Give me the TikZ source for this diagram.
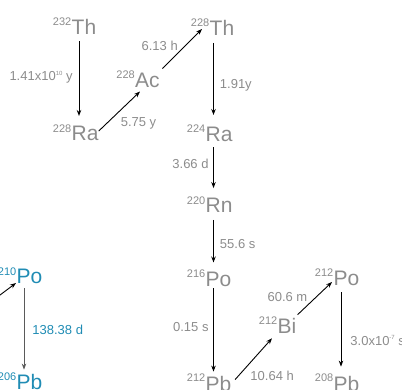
\documentclass[tikz,border=0pt]{standalone}
\usepackage{fontspec}
\setmainfont{Liberation Sans}
\usepackage{tikz}
\usetikzlibrary{arrows.meta, positioning}
\definecolor{cGray}{RGB}{140,140,140}
\definecolor{cBlue}{RGB}{32,140,180}
\definecolor{cLine}{RGB}{90,90,90}
\newcommand{\pw}[1]{\raisebox{5.5pt}{\fontsize{6}{6}\selectfont #1}}
\tikzset{
	elem/.style ={inner sep=0pt, anchor=west, font=\fontsize{21}{21}\selectfont, text=cGray},
	num/.style  ={inner sep=0pt, anchor=north east, yshift=1.5pt, font=\fontsize{11}{11}\selectfont, text=cGray},
	iso/.style  ={elem, label={[num]north west:#1}},
	isob/.style ={elem, text=cBlue, label={[num, text=cBlue]north west:#1}},
	lbl/.style  ={inner sep=0pt, font=\fontsize{13}{13}\selectfont, text=cGray},
	decay/.style={-{Stealth[length=6pt, width=4.5pt]}, line width=0.9pt},
	fall/.style ={decay, shorten <=7pt, shorten >=9pt},
}
\begin{document}
\begin{tikzpicture}[x=1pt, y=-1pt]
	\useasboundingbox (0,0) rectangle (402,389);
	\clip (0,0) rectangle (402,389);
	% thorium series
	\node[iso=232] (th232) at (71.5,26.5) {Th};
	\node[iso=228] (ra228) at (71.5,133.5) {Ra};
	\node[iso=228] (ac228) at (135,80) {Ac};
	\node[iso=228] (th228) at (209.5,28) {Th};
	\node[iso=224] (ra224) at (205.5,134) {Ra};
	\node[iso=220] (rn220) at (205.5,205.5) {Rn};
	\node[iso=216] (po216) at (205.5,279) {Po};
	\node[iso=212] (pb212) at (205.5,383.5) {Pb};
	\node[iso=212] (bi212) at (277.5,325.5) {Bi};
	\node[iso=212] (po212) at (333.5,278) {Po};
	\node[iso=208] (pb208) at (333.5,383.5) {Pb};
	% end of the other chain
	\node[isob=210] (po210) at (16.5,276.5) {Po};
	\node[isob=206] (pb206) at (16.5,382) {Pb};
	\coordinate (in210) at (-12,304);

	\draw[fall, shorten >=10pt] ([xshift=7.5pt]th232.south west) -- node[lbl, left=6pt, yshift=3pt] {1.41x10\pw{10} y} ([xshift=7.5pt]ra228.north west);
	\draw[decay] ([yshift=2.5pt]ra228.east) -- node[lbl, anchor=north west, xshift=1pt, yshift=-5.5pt] {5.75 y} ([xshift=5pt, yshift=-4pt]ac228.south west);
	\draw[decay] ([xshift=2.5pt, yshift=4pt]ac228.north east) -- node[lbl, left=4pt, yshift=2.5pt] {6.13 h} ([xshift=-7.5pt, yshift=-1pt]th228.west);
	\draw[fall, shorten >=11.5pt] ([xshift=4pt]th228.south west) -- node[lbl, right=6pt, yshift=-4pt] {1.91y} ([xshift=8pt]ra224.north west);
	\draw[fall, shorten <=5.5pt, shorten >=10pt] ([xshift=8pt]ra224.south west) -- node[lbl, left=4.5pt, yshift=5.5pt] {3.66 d} ([xshift=8pt]rn220.north west);
	\draw[fall] ([xshift=8pt]rn220.south west) -- node[lbl, right=6pt, yshift=-2pt] {55.6 s} ([xshift=8pt]po216.north west);
	\draw[fall, shorten <=1.5pt, shorten >=4pt] ([xshift=8pt]po216.south west) -- node[lbl, left=4.5pt, yshift=4.5pt] {0.15 s} ([xshift=8pt]pb212.north west);
	\draw[decay] ([xshift=3.5pt, yshift=-4pt]pb212.north east) -- node[lbl, anchor=north west, xshift=-3.5pt, yshift=-12pt] {10.64 h} ([xshift=-5.5pt, yshift=-5pt]bi212.south west);
	\draw[decay] ([xshift=1pt, yshift=3pt]bi212.north east) -- node[lbl, left=7pt, yshift=1pt] {60.6 m} ([xshift=-1.5pt, yshift=-4pt]po212.west);
	\draw[fall, shorten <=6.5pt, shorten >=9pt] ([xshift=7.5pt]po212.south west) -- node[lbl, right=9pt, yshift=-10pt] {3.0x10\pw{-7} s} ([xshift=7.5pt]pb208.north west);
	\draw[decay] (in210) -- ([xshift=-0.5pt, yshift=-6.5pt]po210.west);
	\draw[fall, draw=cLine, shorten <=4pt, shorten >=4.5pt] ([xshift=7.5pt]po210.south west) -- node[lbl, right=8pt, yshift=-1pt, text=cBlue] {138.38 d} ([xshift=7.5pt]pb206.north west);
\end{tikzpicture}
\end{document}
